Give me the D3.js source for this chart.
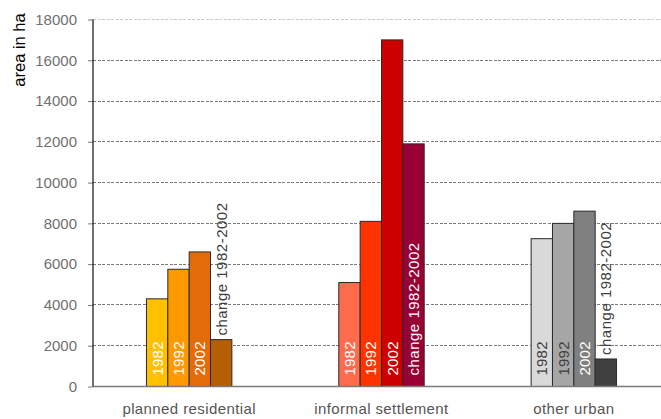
<!DOCTYPE html>
<html>
<head>
<meta charset="utf-8">
<script src="https://cdn.jsdelivr.net/npm/d3@7"></script>
<style>
  html, body { margin: 0; padding: 0; background: #fff; }
  svg { display: block; font-family: "Liberation Sans", Arial, sans-serif; }
</style>
</head>
<body>
<svg id="chart" width="661" height="419"></svg>
<script>
// Land-use categories and the four bars drawn for each one
const categories = ["planned residential", "informal settlement", "other urban"];
const seriesNames = ["1982", "1992", "2002", "change 1982-2002"];

// Area in hectares, one array per category, in seriesNames order
const plannedResidential = [4300, 5750, 6600, 2300];
const informalSettlement = [5100, 8100, 17000, 11900];
const otherUrban = [7250, 8000, 8600, 1350];

const yTicks = [0, 2000, 4000, 6000, 8000, 10000, 12000, 14000, 16000, 18000];

// Fill per category / series
const palette = {
  "planned residential": ["#ffc000", "#ff9900", "#e36c0a", "#b45f06"],
  "informal settlement": ["#ff6b4d", "#ff3300", "#cc0000", "#990033"],
  "other urban": ["#d9d9d9", "#a6a6a6", "#808080", "#404040"]
};

const values = {
  "planned residential": plannedResidential,
  "informal settlement": informalSettlement,
  "other urban": otherUrban
};

const svg = d3.select("#chart");
const W = 661;
const plot = { left: 93, right: 670, top: 19.5, bottom: 386.5 };

const y = d3.scaleLinear().domain([0, 18000]).range([plot.bottom, plot.top]);
const x0 = d3.scaleBand().domain(categories)
  .range([plot.left, plot.right]).paddingInner(0.556).paddingOuter(0.278);
const x1 = d3.scaleBand().domain(seriesNames).range([0, x0.bandwidth()]);

// Dashed horizontal gridlines
svg.append("g").selectAll("line")
  .data(yTicks.filter(d => d > 0))
  .join("line")
  .attr("x1", plot.left).attr("x2", W)
  .attr("y1", d => y(d)).attr("y2", d => y(d))
  .attr("stroke", d => d === 18000 ? "#c8c8c8" : "#7a7a7a")
  .attr("stroke-width", 1)
  .attr("stroke-dasharray", "3,1.5")
  .attr("shape-rendering", "crispEdges");

// Y axis with outside ticks
const yAxis = d3.axisLeft(y).tickValues(yTicks).tickSize(5).tickPadding(11)
  .tickFormat(d3.format("d"));
const gy = svg.append("g").attr("transform", `translate(${plot.left},0)`).call(yAxis);
gy.select(".domain").remove();
gy.selectAll(".tick line").attr("stroke", "#7a7a7a");
gy.selectAll(".tick text")
  .attr("fill", "#707070")
  .style("font-size", "15px")
  .style("font-family", "'Liberation Sans', Arial, sans-serif");

// Bars
const groups = svg.append("g").selectAll("g")
  .data(categories)
  .join("g")
  .attr("transform", c => `translate(${x0(c)},0)`);

groups.selectAll("rect")
  .data(c => seriesNames.map((s, i) => ({ c, s, i, v: values[c][i] })))
  .join("rect")
  .attr("x", d => x1(d.s))
  .attr("y", d => y(d.v))
  .attr("width", x1.bandwidth())
  .attr("height", d => y(0) - y(d.v))
  .attr("fill", d => palette[d.c][d.i])
  .attr("stroke", "#2a2a2a")
  .attr("stroke-width", 1);

// Rotated series labels: inside the bar when it is tall enough, above it otherwise
const fontSize = 15;
const labelLen = s => (s.length > 4 ? 134 : 34);
const fitsInside = d => (y(0) - y(d.v)) > labelLen(d.s) + 16;

groups.selectAll("text")
  .data(c => seriesNames.map((s, i) => ({ c, s, i, v: values[c][i] })))
  .join("text")
  .attr("transform", d => {
    const cx = x1(d.s) + x1.bandwidth() / 2;
    const yStart = fitsInside(d) ? y(0) - 11 : y(d.v) - 4;
    return `translate(${cx},${yStart}) rotate(-90)`;
  })
  .attr("dy", "0.36em")
  .attr("text-anchor", "start")
  .style("font-size", fontSize + "px")
  .style("letter-spacing", d => d.s.length > 4 ? "0.5px" : "0.2px")
  .attr("fill", d => {
    if (!fitsInside(d)) return "#404040";
    if (d.c === "other urban" && d.i < 2) return "#404040";
    return "#ffffff";
  })
  .text(d => d.s);

// Baseline and vertical axis line
svg.append("line")
  .attr("x1", plot.left).attr("x2", W)
  .attr("y1", y(0)).attr("y2", y(0))
  .attr("stroke", "#7a7a7a").attr("stroke-width", 1.5);
svg.append("line")
  .attr("x1", plot.left).attr("x2", plot.left)
  .attr("y1", plot.top).attr("y2", plot.bottom)
  .attr("stroke", "#111").attr("stroke-width", 1.2);

// Category labels
svg.append("g").selectAll("text")
  .data(categories)
  .join("text")
  .attr("x", c => x0(c) + x0.bandwidth() / 2)
  .attr("y", 414)
  .attr("text-anchor", "middle")
  .attr("fill", "#555")
  .style("font-size", "15px")
  .style("letter-spacing", "0.4px")
  .text(c => c);

// Y axis title
svg.append("text")
  .attr("transform", "translate(25,50) rotate(-90)")
  .attr("text-anchor", "middle")
  .attr("fill", "#000")
  .style("font-size", "16.5px")
  .text("area in ha");
</script>
</body>
</html>
